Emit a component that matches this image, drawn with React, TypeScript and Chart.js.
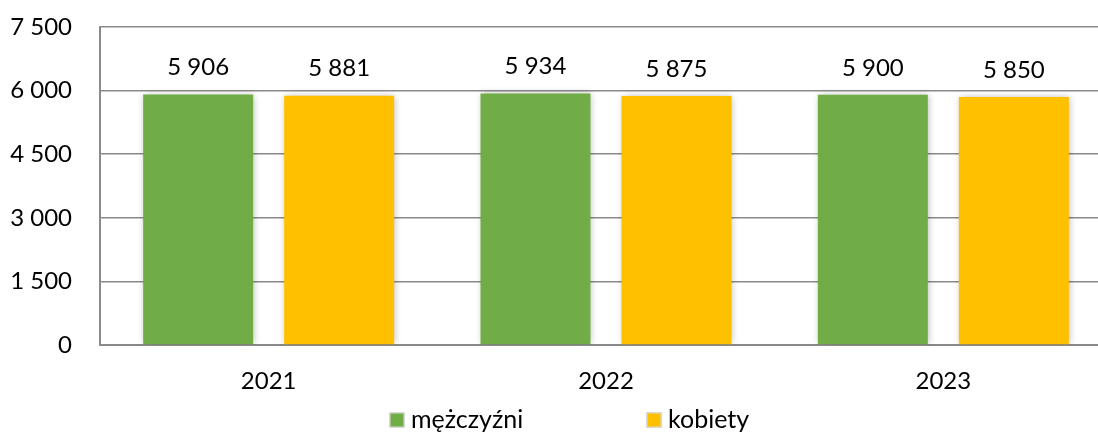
import React, { useEffect, useRef } from "react";
import { Chart, registerables } from "chart.js";

Chart.register(...registerables);

const categories = ["2021", "2022", "2023"];
const menValues = [5906, 5934, 5900];
const womenValues = [5881, 5875, 5850];
const seriesNames = ["mężczyźni", "kobiety"];
const seriesColors = ["#70AD47", "#FFC000"];
const yTicks = [0, 1500, 3000, 4500, 6000, 7500];

const FONT = "Lato, 'Noto Sans', sans-serif";

const fmt = (v: number) => {
  const s = Math.round(v).toString();
  return s.replace(/\B(?=(\d{3})+(?!\d))/g, " ");
};

const shadowPlugin = {
  id: "barShadow",
  beforeDatasetsDraw(chart: any) {
    const ctx = chart.ctx;
    ctx.save();
    ctx.shadowColor = "rgba(0,0,0,0.28)";
    ctx.shadowBlur = 7;
    ctx.shadowOffsetX = 1;
    ctx.shadowOffsetY = 0;
  },
  afterDatasetsDraw(chart: any) {
    chart.ctx.restore();
  },
};

const labelsPlugin = {
  id: "valueLabels",
  afterDatasetsDraw(chart: any) {
    const ctx = chart.ctx;
    ctx.save();
    ctx.font = `24px ${FONT}`;
    ctx.fillStyle = "#000";
    ctx.textAlign = "center";
    ctx.textBaseline = "middle";
    chart.data.datasets.forEach((ds: any, i: number) => {
      const meta = chart.getDatasetMeta(i);
      meta.data.forEach((bar: any, j: number) => {
        ctx.fillText(fmt(ds.data[j]), bar.x, bar.y - 27);
      });
    });
    ctx.restore();
  },
};

const legendPlugin = {
  id: "customLegend",
  afterDraw(chart: any) {
    const ctx = chart.ctx;
    const y = chart.chartArea.bottom + 75;
    const xs = [389, 646];
    ctx.save();
    ctx.font = `25px ${FONT}`;
    ctx.textBaseline = "middle";
    ctx.textAlign = "left";
    chart.data.datasets.forEach((ds: any, i: number) => {
      const x = xs[i];
      ctx.fillStyle = "#d9d9d9";
      ctx.fillRect(x, y - 8, 16, 16);
      ctx.fillStyle = ds.backgroundColor;
      ctx.fillRect(x + 1.5, y - 6.5, 13, 13);
      ctx.fillStyle = "#000";
      ctx.fillText(ds.label, x + 22, y);
    });
    ctx.restore();
  },
};

export default function App() {
  const ref = useRef<HTMLCanvasElement | null>(null);

  useEffect(() => {
    document.body.style.margin = "0";
    document.body.style.overflow = "hidden";
    const chart = new Chart(ref.current as HTMLCanvasElement, {
      type: "bar",
      data: {
        labels: categories,
        datasets: [
          {
            label: seriesNames[0],
            data: menValues,
            backgroundColor: seriesColors[0],
            barPercentage: 0.78,
            categoryPercentage: 0.836,
          },
          {
            label: seriesNames[1],
            data: womenValues,
            backgroundColor: seriesColors[1],
            barPercentage: 0.78,
            categoryPercentage: 0.836,
          },
        ],
      },
      options: {
        animation: false,
        responsive: false,
        maintainAspectRatio: false,
        layout: { padding: { top: 27, right: 0, left: 0, bottom: 0 } },
        plugins: {
          legend: { display: false },
          tooltip: { enabled: false },
        },
        scales: {
          x: {
            grid: { display: false, drawTicks: false },
            border: { display: true, color: "#8a8a8a", width: 2 },
            ticks: {
              color: "#000",
              font: { family: FONT, size: 24 },
              padding: 22,
            },
            afterFit(scale: any) {
              scale.height = 87;
              scale.paddingLeft = 0;
              scale.paddingRight = 0;
            },
          },
          y: {
            min: 0,
            max: 7500,
            afterBuildTicks(scale: any) {
              scale.ticks = yTicks.map((v) => ({ value: v }));
            },
            grid: {
              color: "#8a8a8a",
              lineWidth: 1.5,
              drawTicks: false,
            },
            border: { display: true, color: "#8a8a8a", width: 2 },
            ticks: {
              color: "#000",
              font: { family: FONT, size: 24 },
              padding: 28,
              callback: (v: any) => fmt(Number(v)),
            },
            afterFit(scale: any) {
              scale.width = 100;
              scale.paddingTop = 0;
              scale.paddingBottom = 0;
            },
          },
        },
      },
      plugins: [shadowPlugin, labelsPlugin, legendPlugin],
    });
    return () => chart.destroy();
  }, []);

  return (
    <div style={{ position: "absolute", left: 0, top: 0, width: 1098, height: 432, overflow: "hidden" }}>
      <canvas ref={ref} width={1112} height={432} style={{ width: 1112, height: 432, display: "block" }} />
    </div>
  );
}
